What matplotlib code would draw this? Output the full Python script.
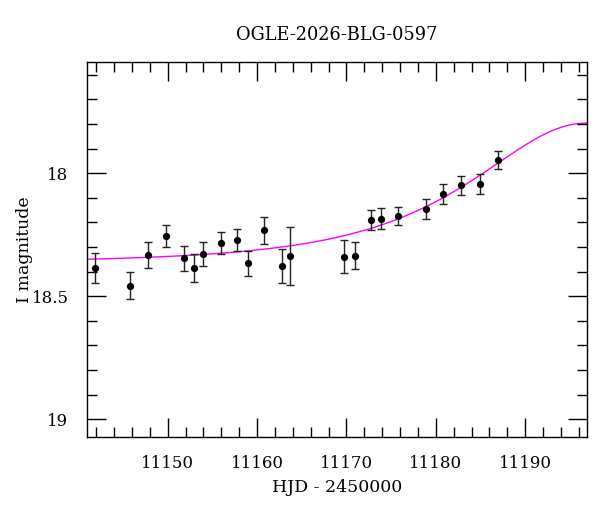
import numpy as np
import matplotlib
matplotlib.use("Agg")
import matplotlib.pyplot as plt
from matplotlib.ticker import MultipleLocator

plt.rcParams['font.family'] = ['DejaVu Serif']

title = "OGLE-2026-BLG-0597"
xlabel = "HJD - 2450000"
ylabel = "I magnitude"

hjd = [11141.84, 11145.83, 11147.84, 11149.82, 11151.79, 11152.98, 11153.99,
       11155.92, 11157.75, 11158.94, 11160.73, 11162.74, 11163.74, 11169.78,
       11170.97, 11172.76, 11173.91, 11175.78, 11178.94, 11180.80, 11182.78,
       11184.91, 11186.95]
mag = [18.384, 18.457, 18.333, 18.254, 18.346, 18.386, 18.327,
       18.282, 18.271, 18.366, 18.232, 18.376, 18.335, 18.339,
       18.335, 18.189, 18.185, 18.175, 18.146, 18.084, 18.049,
       18.043, 17.945]
err = [0.061, 0.054, 0.053, 0.044, 0.052, 0.058, 0.049,
       0.045, 0.045, 0.051, 0.054, 0.070, 0.118, 0.067,
       0.054, 0.040, 0.042, 0.037, 0.042, 0.040, 0.039,
       0.040, 0.037]

# PSPL model parameters (fitted curve)
t0 = 11196.8
tE = 16.5
u0 = 0.834
I0 = 18.365
fs = 1.4

t = np.linspace(11141.0, 11196.9, 400)
u = np.sqrt(u0**2 + ((t - t0) / tE)**2)
A = (u**2 + 2) / (u * np.sqrt(u**2 + 4))
model = I0 - 2.5 * np.log10(fs * A + 1 - fs)

fig = plt.figure(figsize=(6.0, 5.12), dpi=100)
ax = fig.add_axes([0.1455, 0.1471, 0.978 - 0.1455, 0.8783 - 0.1471])

ax.plot(t, model, color='#ff00ff', lw=1.0, zorder=1)
ax.errorbar(hjd, mag, yerr=err, fmt='o', color='black', ms=4.2,
            ecolor='#222222', elinewidth=1.0, capsize=3, capthick=1.0, zorder=2)

ax.set_xlim(11141.0, 11196.9)
ax.set_ylim(19.071, 17.549)

ax.xaxis.set_major_locator(MultipleLocator(10))
ax.xaxis.set_minor_locator(MultipleLocator(2))
ax.yaxis.set_major_locator(MultipleLocator(0.5))
ax.yaxis.set_minor_locator(MultipleLocator(0.1))
ax.yaxis.set_major_formatter(plt.FuncFormatter(lambda v, p: f"{v:g}"))

ax.tick_params(which='both', direction='in', top=True, right=True,
               labelsize=12, width=1.0, color='black')
ax.tick_params(which='major', length=13.5, pad=13.5)
ax.tick_params(which='minor', length=7)
for s in ax.spines.values():
    s.set_linewidth(1.0)

ax.set_title(title, fontsize=12.8, pad=16)
ax.set_xlabel(xlabel, fontsize=12.5, labelpad=5)
ax.set_ylabel(ylabel, fontsize=12.5)
ax.yaxis.label.set_va('center')
ax.yaxis.set_label_coords((25 - 87.3) / 499.4, 0.5)

fig.savefig("out.png", dpi=100)
